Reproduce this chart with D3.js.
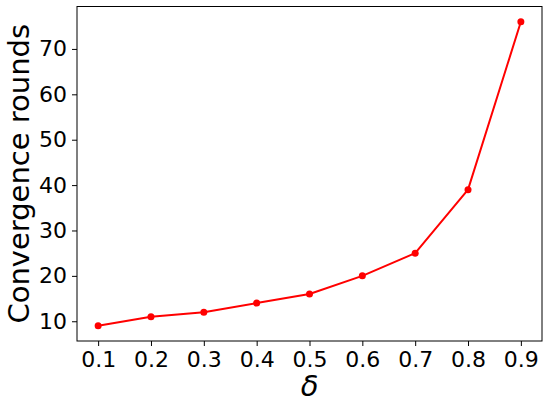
<!DOCTYPE html>
<html>
<head>
<meta charset="utf-8">
<script src="https://cdn.jsdelivr.net/npm/d3@7"></script>
<style>
  html, body { margin: 0; padding: 0; background: #fff; }
  svg { display: block; }
  text { font-family: "DejaVu Sans", sans-serif; fill: #000; }
</style>
</head>
<body>
<svg id="chart" width="550" height="404"></svg>
<script>
const deltas = [0.1, 0.2, 0.3, 0.4, 0.5, 0.6, 0.7, 0.8, 0.9];
const rounds = [9, 11, 12, 14, 16, 20, 25, 39, 76];
const xTicks = [0.1, 0.2, 0.3, 0.4, 0.5, 0.6, 0.7, 0.8, 0.9];
const yTicks = [10, 20, 30, 40, 50, 60, 70];

const W = 550, H = 404;
const m = { left: 77, right: 8, top: 6.5, bottom: 63 };
const svg = d3.select("#chart");

const xPad = (0.9 - 0.1) * 0.05;
const yPad = (76 - 9) * 0.05;
const x = d3.scaleLinear().domain([0.1 - xPad, 0.9 + xPad]).range([m.left, W - m.right]);
const y = d3.scaleLinear().domain([9 - yPad, 76 + yPad]).range([H - m.bottom, m.top]);

const data = deltas.map((d, i) => ({ d, r: rounds[i] }));

svg.append("path")
  .datum(data)
  .attr("fill", "none")
  .attr("stroke", "#ff0000")
  .attr("stroke-width", 2)
  .attr("stroke-linejoin", "round")
  .attr("d", d3.line().x(p => x(p.d)).y(p => y(p.r)));

svg.selectAll("circle.pt")
  .data(data)
  .enter().append("circle")
  .attr("class", "pt")
  .attr("cx", p => x(p.d))
  .attr("cy", p => y(p.r))
  .attr("r", 3.5)
  .attr("fill", "#ff0000");

const xAxis = d3.axisBottom(x).tickValues(xTicks).tickFormat(d3.format(".1f")).tickSize(5).tickPadding(5);
const yAxis = d3.axisLeft(y).tickValues(yTicks).tickFormat(d3.format("d")).tickSize(5).tickPadding(5);

const gx = svg.append("g").attr("transform", `translate(0,${H - m.bottom})`).call(xAxis);
const gy = svg.append("g").attr("transform", `translate(${m.left},0)`).call(yAxis);
[gx, gy].forEach(g => {
  g.select(".domain").remove();
  g.selectAll(".tick line").attr("stroke", "#000").attr("stroke-width", 1);
  g.selectAll(".tick text").attr("font-size", 22).attr("font-family", "DejaVu Sans").attr("fill", "#000");
});

svg.append("rect")
  .attr("x", m.left).attr("y", m.top)
  .attr("width", W - m.left - m.right).attr("height", H - m.top - m.bottom)
  .attr("fill", "none").attr("stroke", "#000").attr("stroke-width", 1);

svg.append("text")
  .attr("transform", `translate(29,${(m.top + H - m.bottom) / 2}) rotate(-90)`)
  .attr("text-anchor", "middle")
  .attr("font-size", 29)
  .text("Convergence rounds");

svg.append("text")
  .attr("x", (m.left + W - m.right) / 2)
  .attr("y", 396)
  .attr("text-anchor", "middle")
  .attr("font-size", 29)
  .attr("font-style", "italic")
  .text("δ");
</script>
</body>
</html>
